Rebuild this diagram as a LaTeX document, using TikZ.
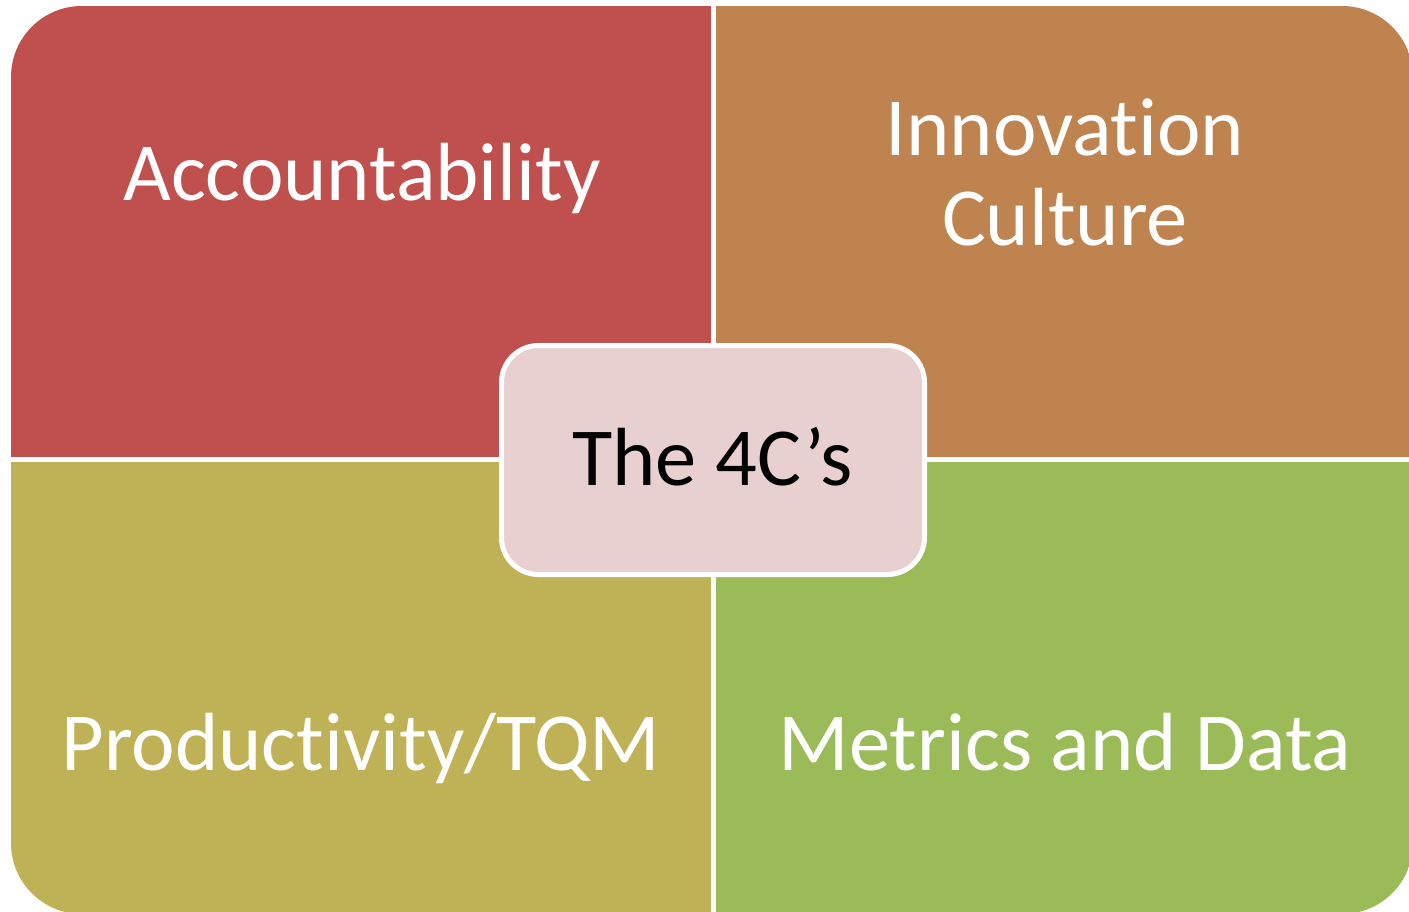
\documentclass[tikz,border=0pt]{standalone}
\usepackage{fontspec}
\setmainfont{Carlito}[Ligatures=NoCommon]
\definecolor{qred}{HTML}{C0504D}
\definecolor{qorange}{HTML}{BF834F}
\definecolor{qolive}{HTML}{BFB156}
\definecolor{qgreen}{HTML}{9BBB59}
\definecolor{qpink}{HTML}{E8D0D1}
\tikzset{
  quadtext/.style={text=white, font=\fontsize{82.5}{90}\selectfont, align=center, inner sep=0pt},
  centerbox/.style={draw=white, line width=5pt, fill=qpink, rounded corners=37pt,
    minimum width=423pt, minimum height=229pt, inner sep=0pt},
}
\begin{document}
\begin{tikzpicture}[x=1pt,y=-1pt]
\useasboundingbox (0,0) rectangle (1409,911);
\begin{scope}
  \clip[rounded corners=71pt] (11,6) rectangle (1413,914);
  \fill[qred] (11,6) rectangle (710.5,457);
  \fill[qorange] (715.5,6) rectangle (1413,457);
  \fill[qolive] (11,462) rectangle (710.5,914);
  \fill[qgreen] (715.5,462) rectangle (1413,914);
\end{scope}
\node[quadtext, anchor=base] (acc) at (362,200) {Accountability};
\node[quadtext, anchor=base] (inn) at (1065,245) {Innovation\\Culture};
\node[quadtext, anchor=base] (prod) at (361,770) {Productivity/TQM};
\node[quadtext, anchor=base] (met) at (1065,770) {Metrics and Data};
\node[centerbox] (core) at (713,460) {};
\node[font=\fontsize{82.5}{90}\selectfont, text=black, anchor=base, inner sep=0pt] (lbl) at (712.5,485) {The 4C’s};
\end{tikzpicture}
\end{document}
